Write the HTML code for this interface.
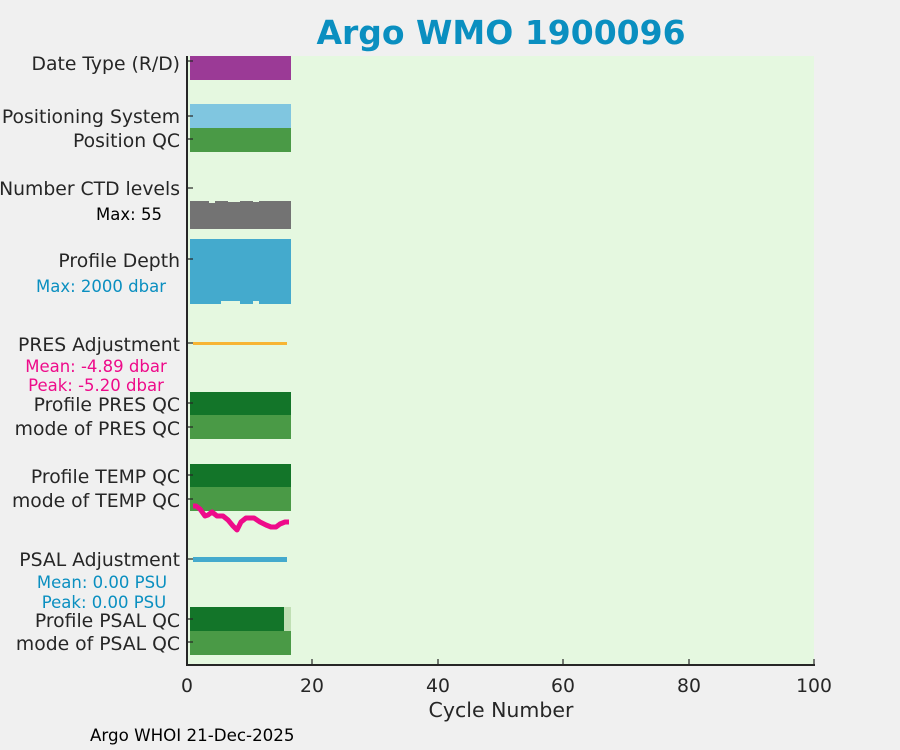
<!DOCTYPE html>
<html><head><meta charset="utf-8"><style>
html,body{margin:0;padding:0;background:#f0f0f0;}
svg{display:block;font-family:"DejaVu Sans","Liberation Sans",sans-serif;}
</style></head><body>
<svg width="900" height="750" viewBox="0 0 900 750" xmlns="http://www.w3.org/2000/svg">
<rect width="900" height="750" fill="#f0f0f0"/>
<rect x="187" y="56" width="627" height="609" fill="#e5f8e0"/>
<text x="501" y="44" text-anchor="middle" font-size="33" font-weight="bold" fill="#0a8fc0">Argo WMO 1900096</text>
<rect x="190" y="56" width="101" height="24" fill="#9b3a96"/>
<rect x="190" y="104" width="101" height="24" fill="#80c6e0"/>
<rect x="190" y="128" width="101" height="24" fill="#4a9a46"/>
<path d="M190,201 H209 V203 H215 V201 H228 V202 H240 V201 H253 V202 H259 V201 H291 V229 H190 Z" fill="#737373"/>
<path d="M190,239 H291 V304 H259 V301 H253 V304 H240 V301 H221 V304 H190 Z" fill="#44aacd"/>
<rect x="193" y="342" width="94" height="3" fill="#f7b534"/>
<rect x="190" y="392" width="101" height="23" fill="#137529"/>
<rect x="190" y="415" width="101" height="24" fill="#4a9a46"/>
<rect x="190" y="464" width="101" height="23" fill="#137529"/>
<rect x="190" y="487" width="101" height="24" fill="#4a9a46"/>
<polyline points="193,506 196,506 200,509 205,516 208,515 212,512 217,516 223,516 228,520 233,526 237,530 241,522 246,518 254,518 260,522 266,525 271,527 276,527 280,524 285,522 289,522" fill="none" stroke="#ee0b8a" stroke-width="5" stroke-linejoin="round"/>
<rect x="193" y="557" width="94" height="5" fill="#44aacd"/>
<rect x="190" y="607" width="94" height="24" fill="#137529"/>
<rect x="284" y="607" width="7" height="24" fill="#c0dfb4"/>
<rect x="190" y="631" width="101" height="24" fill="#4a9a46"/>
<line x1="187" y1="56" x2="187" y2="666" stroke="#262626" stroke-width="2"/>
<line x1="186" y1="665" x2="815" y2="665" stroke="#262626" stroke-width="2"/>
<g stroke="#262626" stroke-width="1.2">
<line x1="187" y1="61" x2="193" y2="61"/><line x1="187" y1="116" x2="193" y2="116"/><line x1="187" y1="139" x2="193" y2="139"/><line x1="187" y1="188" x2="193" y2="188"/><line x1="187" y1="259" x2="193" y2="259"/><line x1="187" y1="343" x2="193" y2="343"/><line x1="187" y1="403" x2="193" y2="403"/><line x1="187" y1="427" x2="193" y2="427"/><line x1="187" y1="475" x2="193" y2="475"/><line x1="187" y1="499" x2="193" y2="499"/><line x1="187" y1="559" x2="193" y2="559"/><line x1="187" y1="619" x2="193" y2="619"/><line x1="187" y1="642" x2="193" y2="642"/>
<line x1="312" y1="665" x2="312" y2="659"/><line x1="438" y1="665" x2="438" y2="659"/><line x1="563" y1="665" x2="563" y2="659"/><line x1="689" y1="665" x2="689" y2="659"/><line x1="814" y1="665" x2="814" y2="659"/>
</g>
<g font-size="18.8" fill="#262626" text-anchor="end">
<text x="180" y="70">Date Type (R/D)</text>
<text x="180" y="123">Positioning System</text>
<text x="180" y="147">Position QC</text>
<text x="180" y="195">Number CTD levels</text>
<text x="180" y="267">Profile Depth</text>
<text x="180" y="351">PRES Adjustment</text>
<text x="180" y="411">Profile PRES QC</text>
<text x="180" y="435">mode of PRES QC</text>
<text x="180" y="483">Profile TEMP QC</text>
<text x="180" y="507">mode of TEMP QC</text>
<text x="180" y="566">PSAL Adjustment</text>
<text x="180" y="627">Profile PSAL QC</text>
<text x="180" y="650">mode of PSAL QC</text>
</g>
<g font-size="16.5" text-anchor="middle">
<text x="129" y="220" fill="#000">Max: 55</text>
<text x="101" y="292" fill="#0a8fc0">Max: 2000 dbar</text>
<text x="96" y="372" fill="#ee0b8a">Mean: -4.89 dbar</text>
<text x="96" y="391" fill="#ee0b8a">Peak: -5.20 dbar</text>
<text x="102" y="588" fill="#0a8fc0">Mean: 0.00 PSU</text>
<text x="104" y="608" fill="#0a8fc0">Peak: 0.00 PSU</text>
</g>
<g font-size="18.8" fill="#262626" text-anchor="middle">
<text x="187" y="692">0</text><text x="312" y="692">20</text><text x="438" y="692">40</text><text x="563" y="692">60</text><text x="689" y="692">80</text><text x="814" y="692">100</text>
<text x="501" y="717" font-size="20.5">Cycle Number</text>
</g>
<text x="90" y="741" font-size="16.7" fill="#000">Argo WHOI 21-Dec-2025</text>
</svg>
</body></html>
